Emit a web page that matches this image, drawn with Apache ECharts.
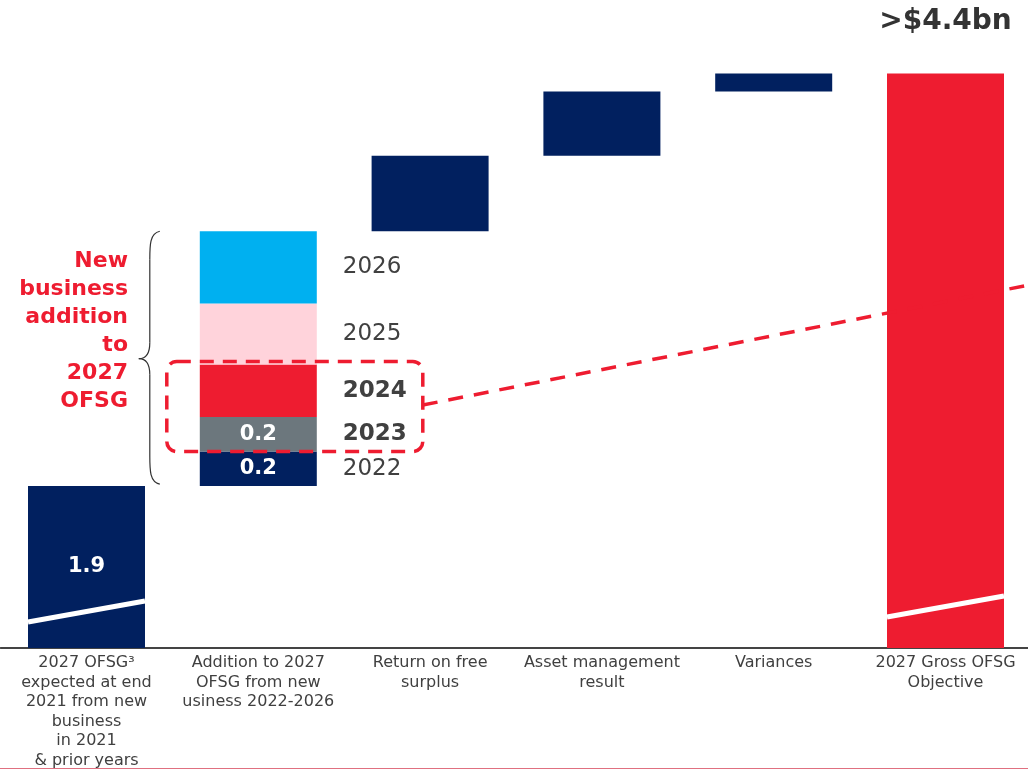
<!DOCTYPE html>
<html><head><meta charset="utf-8">
<script src="https://cdn.jsdelivr.net/npm/echarts@6/dist/echarts.min.js"></script>
<style>html,body{margin:0;padding:0;background:#fff}#c{width:1028px;height:770px}</style>
</head><body><div id="c"></div>
<script>
// ---- data ----
const categories = [
  '2027 OFSG\u00b3\nexpected at end\n2021 from new\nbusiness\nin 2021\n& prior years',
  'Addition to 2027\nOFSG from new\nusiness 2022-2026',
  'Return on free\nsurplus',
  'Asset management\nresult',
  'Variances',
  '2027 Gross OFSG\nObjective'
];
const baseValue = 1.9;
const baseLabel = '1.9';
const newBizYears = ['2022', '2023', '2024', '2025', '2026'];
const newBizValues = [0.21, 0.21, 0.32, 0.37, 0.44];
const newBizValueLabels = ['0.2', '0.2', '', '', ''];
const newBizBoldYears = ['2023', '2024'];
const otherValues = [0.46, 0.39, 0.11]; // Return on free surplus, Asset management, Variances
const totalLabel = '>$4.4bn';
const newBizNote = 'New\nbusiness\naddition\nto\n2027\nOFSG';
const axisBreak = { from: 0.35, to: 1.265 }; // hidden value range (broken axis)

// ---- styles ----
const NAVY = '#01205F', RED = '#EE1C30', GREY = '#6C777D', PINK = '#FFD3DB', BLUE = '#00B0F0';
const segColors = [NAVY, GREY, RED, PINK, BLUE];
const FONT = 'DejaVu Sans';
const BAR_W = 117;

const disp = v => v <= axisBreak.from ? v : v - (axisBreak.to - axisBreak.from);
const sum = a => a.reduce((s, x) => s + x, 0);

const cumNB = [];
{ let c = baseValue; newBizValues.forEach(v => { cumNB.push(c); c += v; }); }
const afterNB = baseValue + sum(newBizValues);
const cumOther = [];
{ let c = afterNB; otherValues.forEach(v => { cumOther.push(c); c += v; }); }
const total = afterNB + sum(otherValues);

const N = categories.length;
const blank = () => Array(N).fill('-');

const series = [];
const ph = blank();
ph[1] = disp(baseValue);
cumOther.forEach((c, i) => ph[2 + i] = disp(c));
series.push({ type: 'bar', stack: 'wf', data: ph, itemStyle: { color: 'transparent' }, silent: true, barWidth: BAR_W, barGap: '-100%' });

const bd = blank(); bd[0] = disp(baseValue);
series.push({ type: 'bar', stack: 'wf', data: bd, itemStyle: { color: NAVY }, barWidth: BAR_W,
  label: { show: true, position: 'inside', formatter: baseLabel, color: '#fff', fontFamily: FONT, fontWeight: 'bold', fontSize: 21 } });

newBizValues.forEach((v, i) => {
  const d = blank(); d[1] = v;
  series.push({ type: 'bar', stack: 'wf', data: d, itemStyle: { color: segColors[i] }, barWidth: BAR_W,
    label: { show: !!newBizValueLabels[i], position: 'inside', formatter: newBizValueLabels[i], color: '#fff', fontFamily: FONT, fontWeight: 'bold', fontSize: 21 } });
});

const od = blank(); otherValues.forEach((v, i) => od[2 + i] = v);
series.push({ type: 'bar', stack: 'wf', data: od, itemStyle: { color: NAVY }, barWidth: BAR_W });

const td = blank(); td[N - 1] = disp(total);
series.push({ type: 'bar', stack: 'wf', data: td, itemStyle: { color: RED }, barWidth: BAR_W,
  label: { show: true, position: 'top', distance: 38, formatter: totalLabel, color: '#333', fontFamily: FONT, fontWeight: 'bold', fontSize: 28 } });

const yph = blank(); yph[1] = disp(baseValue);
series.push({ type: 'bar', stack: 'yr', data: yph, itemStyle: { color: 'transparent' }, silent: true, barWidth: BAR_W });
newBizValues.forEach((v, i) => {
  const d = blank(); d[1] = v;
  series.push({ type: 'bar', stack: 'yr', data: d, itemStyle: { color: 'transparent' }, silent: true, barWidth: BAR_W,
    label: { show: true, position: 'right', distance: 26, formatter: newBizYears[i], color: '#404040', fontFamily: FONT, fontSize: 23,
      fontWeight: newBizBoldYears.includes(newBizYears[i]) ? 'bold' : 'normal' } });
});

const chart = echarts.init(document.getElementById('c'), null, { renderer: 'canvas' });
chart.setOption({
  animation: false,
  backgroundColor: '#fff',
  grid: { left: 0.6, right: -3.4, top: 56.2, bottom: 122, containLabel: false, outerBoundsMode: 'none' },
  xAxis: { type: 'category', data: categories,
    axisLine: { lineStyle: { color: '#444', width: 2 } }, axisTick: { show: false },
    axisLabel: { interval: 0, margin: 5, color: '#404040', fontFamily: FONT, fontSize: 16, lineHeight: 19.6 } },
  yAxis: { type: 'value', min: 0, max: 3.6, show: false, splitLine: { show: false } },
  series
});

// ---- annotations positioned through the chart's scales ----
const px = (i, v) => chart.convertToPixel({ gridIndex: 0 }, [i, disp(v)]);
const half = BAR_W / 2;
const nbTop = px(1, afterNB);
const nbBase = px(1, baseValue);
const barL1 = nbTop[0] - half, barR1 = nbTop[0] + half;
const y2024Top = px(1, cumNB[2] + newBizValues[2])[1];
const y2023Bot = px(1, cumNB[1])[1];
const y2023Top = px(1, cumNB[2])[1];
const boxL = barL1 - 33, boxR = barR1 + 106, boxT = y2024Top - 3, boxB = y2023Bot;
const lineStartY = y2023Top - 12;
const lineEndX = 1028;
const lineEndY = lineStartY - (lineEndX - boxR) * 0.198;

const bx = barL1 - 40, bt = nbTop[1], bb = nbBase[1] - 2, bm = (bt + bb) / 2 + 1;
const sx = bx - 10, tip = bx - 21;
const braceStyle = { fill: 'none', stroke: '#333', lineWidth: 1.2 };
const brace = [
  { type: 'bezierCurve', shape: { x1: bx, y1: bt, cpx1: sx, cpy1: bt + 2, cpx2: sx, cpy2: bt + 14, x2: sx, y2: bt + 28 }, style: braceStyle },
  { type: 'line', shape: { x1: sx, y1: bt + 28, x2: sx, y2: bm - 16 }, style: braceStyle },
  { type: 'bezierCurve', shape: { x1: sx, y1: bm - 16, cpx1: sx, cpy1: bm - 4, cpx2: sx - 4, cpy2: bm, x2: tip, y2: bm }, style: braceStyle },
  { type: 'bezierCurve', shape: { x1: tip, y1: bm, cpx1: sx - 4, cpy1: bm, cpx2: sx, cpy2: bm + 4, x2: sx, y2: bm + 16 }, style: braceStyle },
  { type: 'line', shape: { x1: sx, y1: bm + 16, x2: sx, y2: bb - 28 }, style: braceStyle },
  { type: 'bezierCurve', shape: { x1: sx, y1: bb - 28, cpx1: sx, cpy1: bb - 14, cpx2: sx, cpy2: bb - 2, x2: bx, y2: bb }, style: braceStyle }
];

const b0 = px(0, 0), b5 = px(N - 1, 0);

chart.setOption({
  graphic: brace.concat([
    { type: 'text', x: 128, y: bt + 16, style: { text: newBizNote, fill: RED, font: `bold 22px "${FONT}"`, lineHeight: 28, align: 'right', verticalAlign: 'top' } },
    { type: 'rect', shape: { x: boxL, y: boxT, width: boxR - boxL, height: boxB - boxT, r: 10 }, z: 50,
      style: { fill: 'none', stroke: RED, lineWidth: 3.5, lineDash: [14, 9] } },
    { type: 'line', shape: { x1: boxR, y1: lineStartY, x2: lineEndX, y2: lineEndY }, z: 50,
      style: { stroke: RED, lineWidth: 3.5, lineDash: [15, 11] } },
    { type: 'line', shape: { x1: b0[0] - half, y1: b0[1] - 26, x2: b0[0] + half, y2: b0[1] - 47 }, z: 60,
      style: { stroke: '#fff', lineWidth: 5 } },
    { type: 'line', shape: { x1: b5[0] - half, y1: b5[1] - 31, x2: b5[0] + half, y2: b5[1] - 52 }, z: 60,
      style: { stroke: '#fff', lineWidth: 5 } },
    { type: 'line', shape: { x1: 0, y1: 768.5, x2: 1028, y2: 768.5 }, style: { stroke: '#E07080', lineWidth: 1 } }
  ])
});
</script></body></html>
